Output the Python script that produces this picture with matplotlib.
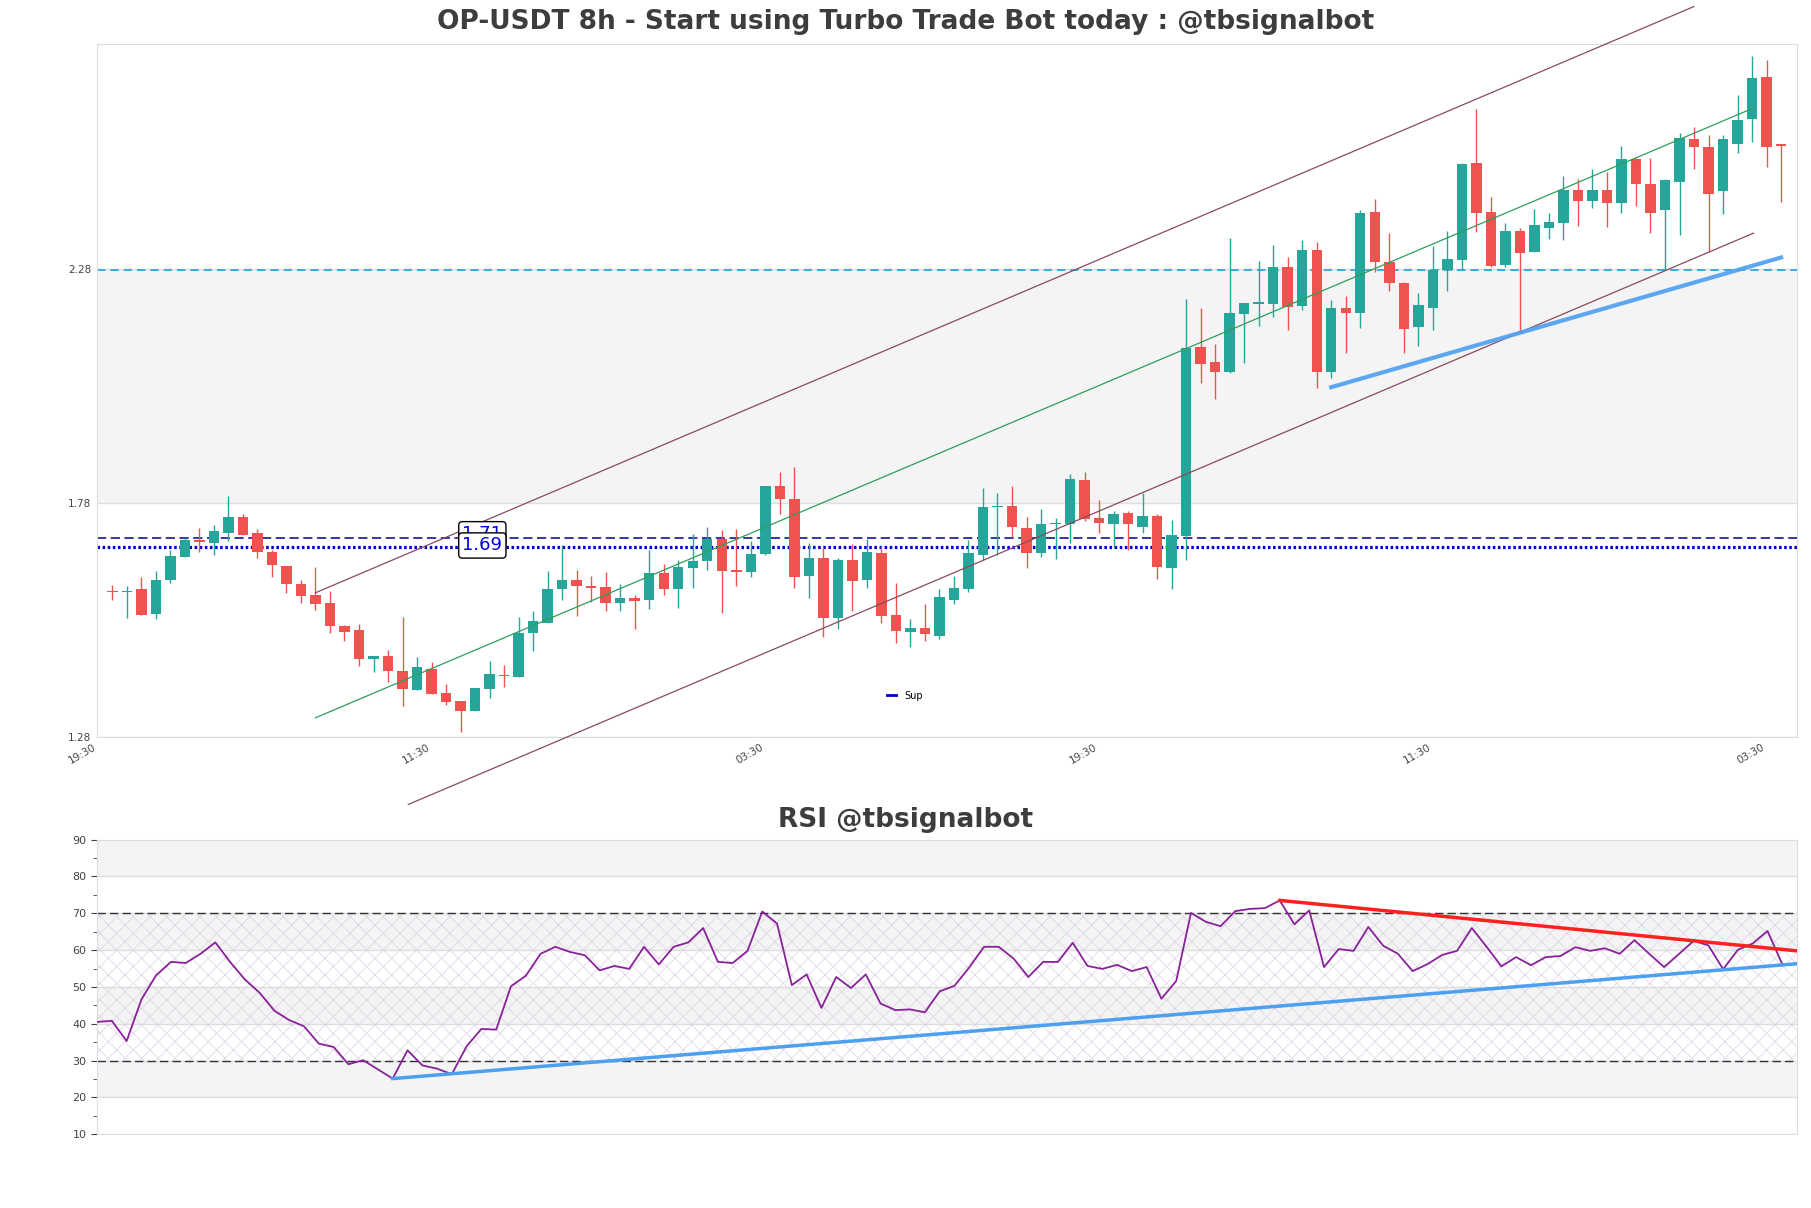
import numpy as np
import matplotlib
matplotlib.use("Agg")
import matplotlib.pyplot as plt

# 8h candles
opens = [1.591, 1.589, 1.596, 1.542, 1.615, 1.665, 1.700, 1.695, 1.716, 1.749,
         1.715, 1.676, 1.645, 1.606, 1.583, 1.567, 1.516, 1.508, 1.447, 1.454,
         1.422, 1.381, 1.425, 1.373, 1.357, 1.336, 1.383, 1.413, 1.408, 1.502,
         1.524, 1.596, 1.615, 1.602, 1.600, 1.566, 1.576, 1.573, 1.630, 1.596,
         1.641, 1.656, 1.702, 1.636, 1.632, 1.670, 1.816, 1.789, 1.624, 1.662,
         1.534, 1.657, 1.615, 1.673, 1.540, 1.504, 1.512, 1.496, 1.573, 1.596,
         1.669, 1.771, 1.774, 1.727, 1.673, 1.734, 1.734, 1.829, 1.747, 1.734,
         1.759, 1.729, 1.752, 1.641, 1.709, 2.112, 2.081, 2.060, 2.183, 2.205,
         2.205, 2.283, 2.201, 2.320, 2.060, 2.197, 2.186, 2.402, 2.294, 2.249,
         2.155, 2.197, 2.277, 2.299, 2.506, 2.401, 2.287, 2.360, 2.315, 2.368,
         2.377, 2.449, 2.425, 2.448, 2.420, 2.514, 2.462, 2.406, 2.466, 2.557,
         2.539, 2.445, 2.547, 2.599, 2.689, 2.546]
highs = [1.605, 1.602, 1.622, 1.635, 1.680, 1.706, 1.727, 1.732, 1.794, 1.757,
         1.724, 1.679, 1.645, 1.616, 1.642, 1.591, 1.519, 1.521, 1.454, 1.465,
         1.536, 1.450, 1.440, 1.394, 1.357, 1.384, 1.442, 1.433, 1.536, 1.549,
         1.634, 1.691, 1.636, 1.623, 1.632, 1.606, 1.583, 1.679, 1.650, 1.657,
         1.713, 1.728, 1.722, 1.725, 1.699, 1.816, 1.846, 1.856, 1.695, 1.685,
         1.662, 1.692, 1.702, 1.687, 1.608, 1.533, 1.565, 1.595, 1.623, 1.700,
         1.811, 1.801, 1.816, 1.749, 1.766, 1.747, 1.841, 1.846, 1.786, 1.763,
         1.763, 1.801, 1.756, 1.743, 2.216, 2.196, 2.119, 2.345, 2.206, 2.297,
         2.330, 2.306, 2.341, 2.337, 2.214, 2.221, 2.405, 2.428, 2.357, 2.252,
         2.229, 2.328, 2.360, 2.506, 2.621, 2.433, 2.378, 2.368, 2.407, 2.398,
         2.478, 2.471, 2.493, 2.486, 2.542, 2.517, 2.516, 2.472, 2.569, 2.583,
         2.565, 2.565, 2.651, 2.734, 2.726, 2.546]
lows = [1.572, 1.534, 1.541, 1.531, 1.609, 1.665, 1.675, 1.669, 1.699, 1.711,
        1.663, 1.622, 1.588, 1.567, 1.552, 1.502, 1.485, 1.432, 1.418, 1.398,
        1.346, 1.380, 1.372, 1.348, 1.291, 1.336, 1.363, 1.387, 1.408, 1.463,
        1.524, 1.572, 1.539, 1.568, 1.549, 1.549, 1.511, 1.553, 1.583, 1.556,
        1.599, 1.636, 1.544, 1.603, 1.622, 1.668, 1.757, 1.598, 1.577, 1.494,
        1.511, 1.549, 1.598, 1.524, 1.481, 1.472, 1.485, 1.489, 1.564, 1.590,
        1.659, 1.668, 1.707, 1.641, 1.664, 1.661, 1.695, 1.742, 1.716, 1.684,
        1.680, 1.716, 1.618, 1.595, 1.659, 2.036, 2.002, 2.058, 2.079, 2.158,
        2.177, 2.150, 2.192, 2.026, 2.047, 2.101, 2.154, 2.272, 2.233, 2.099,
        2.115, 2.150, 2.233, 2.277, 2.359, 2.284, 2.284, 2.143, 2.315, 2.343,
        2.342, 2.372, 2.410, 2.370, 2.400, 2.415, 2.357, 2.277, 2.352, 2.492,
        2.316, 2.396, 2.528, 2.550, 2.498, 2.423]
closes = [1.589, 1.590, 1.541, 1.615, 1.666, 1.700, 1.697, 1.719, 1.749, 1.711,
          1.675, 1.648, 1.607, 1.581, 1.564, 1.517, 1.504, 1.447, 1.452, 1.421,
          1.383, 1.429, 1.372, 1.355, 1.336, 1.384, 1.414, 1.410, 1.502, 1.527,
          1.596, 1.615, 1.603, 1.599, 1.566, 1.576, 1.571, 1.630, 1.596, 1.643,
          1.655, 1.702, 1.635, 1.633, 1.670, 1.816, 1.789, 1.622, 1.662, 1.534,
          1.657, 1.613, 1.675, 1.539, 1.506, 1.512, 1.499, 1.578, 1.598, 1.673,
          1.772, 1.772, 1.729, 1.673, 1.734, 1.735, 1.831, 1.745, 1.737, 1.756,
          1.734, 1.752, 1.643, 1.711, 2.111, 2.077, 2.060, 2.185, 2.206, 2.208,
          2.283, 2.199, 2.319, 2.060, 2.197, 2.186, 2.400, 2.295, 2.250, 2.152,
          2.202, 2.277, 2.301, 2.504, 2.400, 2.286, 2.360, 2.313, 2.373, 2.380,
          2.448, 2.425, 2.448, 2.420, 2.514, 2.460, 2.400, 2.469, 2.560, 2.539,
          2.440, 2.557, 2.598, 2.687, 2.541, 2.543]

rsi = [40.5, 40.8, 35.3, 46.6, 53.2, 56.8, 56.5, 59.0, 62.1, 56.8,
       52.0, 48.4, 43.5, 41.0, 39.3, 34.6, 33.7, 29.0, 30.1, 27.6,
       25.1, 32.8, 28.7, 27.8, 26.3, 33.9, 38.6, 38.4, 50.2, 53.0,
       59.0, 60.9, 59.5, 58.6, 54.5, 55.7, 54.9, 60.9, 56.1, 60.9,
       62.1, 66.0, 56.8, 56.5, 59.8, 70.5, 67.2, 50.5, 53.4, 44.3,
       52.7, 49.7, 53.4, 45.5, 43.7, 43.9, 43.1, 48.8, 50.3, 55.3,
       60.9, 60.9, 57.7, 52.7, 56.8, 56.8, 62.0, 55.7, 54.9, 56.0,
       54.3, 55.4, 46.8, 51.6, 70.1, 67.7, 66.5, 70.6, 71.2, 71.4,
       73.5, 67.0, 70.8, 55.4, 60.3, 59.8, 66.3, 61.2, 59.0, 54.3,
       56.2, 58.7, 59.8, 66.0, 60.9, 55.6, 58.1, 55.9, 58.1, 58.4,
       60.8, 59.8, 60.5, 59.0, 62.7, 59.0, 55.4, 58.9, 62.5, 61.3,
       54.8, 60.1, 61.8, 65.2, 56.2, 56.3]

tick_pos = [-1, 22, 45, 68, 91, 114]
tick_labels = ["19:30", "11:30", "03:30", "19:30", "11:30", "03:30"]
price_ticks = [1.28, 1.78, 2.28]

# channel and trend lines: (x0, y0, x1, y1)
chan_upper = (14, 1.588, 109, 2.840)
chan_mid = (14, 1.321, 113, 2.622)
chan_lower = (20.4, 1.136, 113.1, 2.356)
sup_trend = (84, 2.027, 115, 2.304)
resist_level = 2.277
sup_high = 1.706
sup_low = 1.685

rsi_up_trend = (20, 25.1, 115, 56.3)
rsi_down_trend = (80, 73.5, 115, 59.8)

fig = plt.figure(figsize=(18.11, 12.08), dpi=100)
ax = fig.add_axes([0.0536, 0.3899, 0.9387, 0.5737])
ax2 = fig.add_axes([0.0536, 0.0611, 0.9387, 0.2438])

up_c = "#26a69a"
dn_c = "#ef5350"
x = np.arange(len(opens))
o = np.array(opens); h = np.array(highs); l = np.array(lows); c = np.array(closes)
col = np.where(c >= o, up_c, dn_c)
ax.vlines(x, l, h, colors=col, linewidth=1, zorder=3)
body = np.maximum(np.abs(c - o), 0.002)
ax.bar(x, body, bottom=np.minimum(o, c), width=0.72, color=col, zorder=4)

ylim = (1.28, 2.76)
ax.set_xlim(-1.05, 116.1)
ax.set_ylim(*ylim)

# alternating bands between price ticks
bands = price_ticks + [ylim[1]]
for i in range(len(bands) - 1):
    if i % 2 == 1:
        ax.axhspan(bands[i], bands[i + 1], color="#f4f4f4", zorder=0, lw=0)
for t in price_ticks:
    ax.axhline(t, color="#dddddd", lw=1, zorder=1)

for seg, cc in [(chan_upper, "#8b4a5c"), (chan_mid, "#2e9e5a"), (chan_lower, "#8b4a5c")]:
    ax.plot([seg[0], seg[2]], [seg[1], seg[3]], color=cc, lw=0.9, zorder=5, clip_on=False)
ax.plot([sup_trend[0], sup_trend[2]], [sup_trend[1], sup_trend[3]], color="#4d9ff0", lw=3,
        alpha=0.9, zorder=6)

ax.axhline(resist_level, color="#1fa0e0", ls=(0, (5, 3)), lw=1.2, zorder=2)
ax.axhline(sup_high, color="#000088", ls=(0, (6, 3)), lw=1.1, zorder=2)
ax.axhline(sup_low, color="#0000cc", ls=(0, (0.8, 0.8)), lw=2.3, zorder=2, label="Sup")

box = dict(boxstyle="round,pad=0.2", fc="white", ec="black", lw=1)
ax.text(25.5, sup_high + 0.007, "1.71", color="#0000ee", fontsize=13, ha="center",
        va="center", bbox=box, zorder=7)
ax.text(25.5, sup_low + 0.004, "1.69", color="#0000ee", fontsize=13, ha="center",
        va="center", bbox=box, zorder=8)

leg = ax.legend(loc="lower center", bbox_to_anchor=(0.475, 0.04), frameon=False,
                fontsize=7, handlelength=1.0)
for ln in leg.get_lines():
    ln.set_linestyle("-")
    ln.set_linewidth(2)

ax.set_yticks(price_ticks)
ax.set_yticklabels(["%.2f" % t for t in price_ticks])
ax.set_xticks(tick_pos)
ax.set_xticklabels(tick_labels, rotation=30, ha="right")
ax.tick_params(axis="both", length=0, labelsize=7.5, colors="#444444", pad=4)
for s in ax.spines.values():
    s.set_color("#dddddd")

fig.text(0.5, 0.982, "OP-USDT 8h - Start using Turbo Trade Bot today : @tbsignalbot",
         ha="center", va="center", fontsize=19, fontweight="bold", color="#3d3d3d")

# RSI panel
rx = np.arange(len(rsi))
ax2.set_xlim(0, len(rsi) - 1)
ax2.set_ylim(10, 90)
for lo in range(10, 90, 10):
    if (lo // 10) % 2 == 0:
        ax2.axhspan(lo, lo + 10, color="#f4f4f4", zorder=0, lw=0)
    ax2.axhline(lo, color="#dddddd", lw=1, zorder=1)
plt.rcParams["hatch.linewidth"] = 0.5
ax2.axhspan(30, 70, facecolor="none", edgecolor="#dcd0e4", hatch="xx", lw=0, zorder=1)
ax2.axhline(70, color="#333333", ls=(0, (6, 3)), lw=1, zorder=2)
ax2.axhline(30, color="#333333", ls=(0, (6, 3)), lw=1, zorder=2)
ax2.plot(rx, rsi, color="#882299", lw=1.3, zorder=4)
ax2.plot([rsi_up_trend[0], rsi_up_trend[2]], [rsi_up_trend[1], rsi_up_trend[3]],
         color="#4d9ff0", lw=2.5, zorder=5)
ax2.plot([rsi_down_trend[0], rsi_down_trend[2]], [rsi_down_trend[1], rsi_down_trend[3]],
         color="#ff2020", lw=2.5, zorder=5)

ax2.set_yticks(range(10, 91, 10))
ax2.set_yticks(range(15, 90, 10), minor=True)
ax2.set_xticks([])
ax2.tick_params(axis="y", which="both", colors="#444444", labelsize=8, length=4)
ax2.tick_params(axis="y", which="minor", length=3)
for s in ax2.spines.values():
    s.set_color("#dddddd")
fig.text(0.5, 0.321, "RSI @tbsignalbot", ha="center", va="center", fontsize=19,
         fontweight="bold", color="#3d3d3d")

fig.savefig("out.png", dpi=100)
